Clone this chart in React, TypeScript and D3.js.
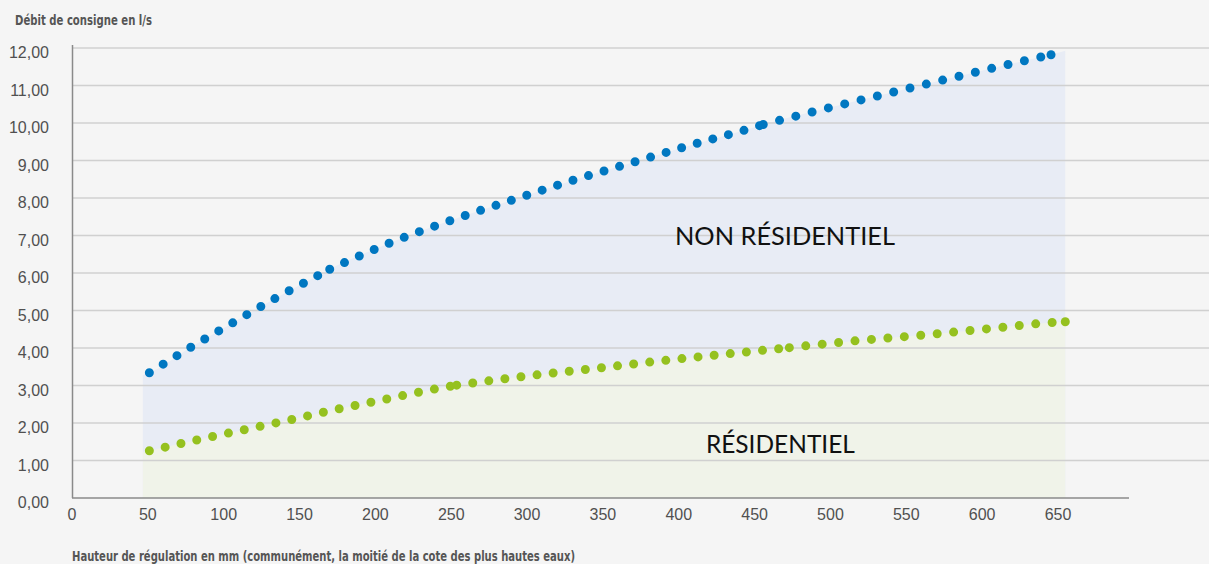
import React from 'react';
import * as d3 from 'd3';

const width = 1209;
const height = 564;
const plot = { left: 72, right: 1129, top: 48, bottom: 498 };

// axis ticks
const xTicks = [0, 50, 100, 150, 200, 250, 300, 350, 400, 450, 500, 550, 600, 650];
const yTicks = [0, 1, 2, 3, 4, 5, 6, 7, 8, 9, 10, 11, 12];

// dotted lines, split in the pieces the original was drawn with: [mm, l/s]
const nonResidentiel: [number, number][][] = [
  [[51.0, 3.34], [78.3, 4.02], [105.9, 4.67], [133.8, 5.32], [162.0, 5.93], [169.9, 6.10]],
  [[169.9, 6.10], [208.3, 6.78], [248.1, 7.38], [288.3, 7.92], [328.5, 8.45], [369.0, 8.94], [409.6, 9.43], [450.1, 9.89], [455.7, 9.96]],
  [[455.7, 9.96], [498.4, 10.40], [541.0, 10.82], [583.9, 11.24], [626.7, 11.65], [645.4, 11.82]],
];
const residentiel: [number, number][][] = [
  [[51.0, 1.26], [81.5, 1.54], [112.3, 1.81], [143.3, 2.08], [174.0, 2.36], [205.0, 2.62], [235.8, 2.88], [253.6, 3.01]],
  [[253.6, 3.01], [295.3, 3.23], [348.1, 3.47], [391.1, 3.67], [433.8, 3.85], [472.9, 4.01]],
  [[472.9, 4.01], [516.0, 4.19], [559.5, 4.34], [603.0, 4.51], [646.5, 4.68], [654.8, 4.70]],
];
// where the shaded zones begin and end
const nonResidentielEdges: [number, number][] = [[46.7, 3.28], [654.8, 11.93]];
const residentielEdges: [number, number][] = [[46.7, 1.22], [654.8, 4.72]];

const zoneLabels = [
  { text: 'NON RÉSIDENTIEL', x: 470, y: 6.75, len: 220 },
  { text: 'RÉSIDENTIEL', x: 467, y: 1.2, len: 149 },
];

// styles
const blue = '#0077c1';
const green = '#95c11f';
const blueGaps = [16.2, 16.2, 16.8];
const greenGaps = [16.2, 16.2, 16.5];
const sans = '"Liberation Sans", Arial, sans-serif';
const narrow = '"Liberation Sans Narrow", "DejaVu Sans Condensed", "Liberation Sans", sans-serif';

const xScale = d3.scaleLinear().domain([0, 650]).range([plot.left, 1058]);
const yScale = d3.scaleLinear().domain([0, 12]).range([plot.bottom, plot.top]);

const line = d3.line<[number, number]>()
  .x(d => xScale(d[0]))
  .y(d => yScale(d[1]))
  .curve(d3.curveMonotoneX);

const area = d3.area<[number, number]>()
  .x(d => xScale(d[0]))
  .y0(yScale(0))
  .y1(d => yScale(d[1]))
  .curve(d3.curveMonotoneX);

// flatten pieces into one outline for the shaded zone
function zone(pieces: [number, number][][], edges: [number, number][]) {
  const pts: [number, number][] = [edges[0]];
  pieces.forEach((p, i) => p.forEach((d, j) => { if (i === 0 || j > 0) pts.push(d); }));
  if (pts[pts.length - 1][0] < edges[1][0]) pts.push(edges[1]);
  return area(pts) || '';
}

function Dotted({ pieces, gaps, color }: { pieces: [number, number][][], gaps: number[], color: string }) {
  const last = pieces[pieces.length - 1];
  const end = last[last.length - 1];
  return <g>
    {pieces.map((p, i) =>
      <path key={i} d={line(p) || ''} fill="none" stroke={color} strokeWidth={9}
        strokeLinecap="round" strokeDasharray={`0 ${gaps[i]}`} />
    )}
    <circle cx={xScale(end[0])} cy={yScale(end[1])} r={4.5} fill={color} />
  </g>;
}

export default function App() {
  return <svg width={width} height={height} style={{ position: 'absolute', left: 0, top: 0 }}>
    <rect width={width} height={height} fill="#f5f5f5" />

    {/* shaded zones */}
    <path d={zone(nonResidentiel, nonResidentielEdges)} fill="#e8ecf5" />
    <path d={zone(residentiel, residentielEdges)} fill="#f0f3e9" />

    {/* grid */}
    {yTicks.filter(v => v > 0).map(v =>
      <line key={v} x1={plot.left} x2={width} y1={yScale(v)} y2={yScale(v)} stroke="#d0d0d0" strokeWidth={1.5} />
    )}

    {/* axes */}
    <line x1={plot.left + 0.5} x2={plot.left + 0.5} y1={plot.top - 3} y2={plot.bottom} stroke="#8a8a8a" strokeWidth={1.5} />
    <line x1={plot.left} x2={plot.right} y1={plot.bottom} y2={plot.bottom} stroke="#8a8a8a" strokeWidth={1.5} />

    {yTicks.map(v =>
      <text key={v} x={49} y={yScale(v) + 10} textAnchor="end" fontFamily={sans} fontSize={16} fill="#505050">
        {d3.format('.2f')(v).replace('.', ',')}
      </text>
    )}
    {xTicks.map(v =>
      <text key={v} x={xScale(v)} y={520} textAnchor="middle" fontFamily={sans} fontSize={16} fill="#505050">{v}</text>
    )}

    {/* series */}
    <Dotted pieces={nonResidentiel} gaps={blueGaps} color={blue} />
    <Dotted pieces={residentiel} gaps={greenGaps} color={green} />

    {zoneLabels.map(l =>
      <text key={l.text} x={xScale(l.x)} y={yScale(l.y)} textAnchor="middle" fontFamily="Lato, sans-serif"
        fontWeight={400} fontSize={25} fill="#111" textLength={l.len} lengthAdjust="spacingAndGlyphs">{l.text}</text>
    )}

    {/* axis titles */}
    <text x={15} y={25} fontFamily={narrow} fontWeight="bold" fontSize={13.5} fill="#555"
      textLength={137} lengthAdjust="spacingAndGlyphs">Débit de consigne en l/s</text>
    <text x={72} y={561} fontFamily={narrow} fontWeight="bold" fontSize={13.5} fill="#555"
      textLength={503} lengthAdjust="spacingAndGlyphs">Hauteur de régulation en mm (communément, la moitié de la cote des plus hautes eaux)</text>
  </svg>;
}
